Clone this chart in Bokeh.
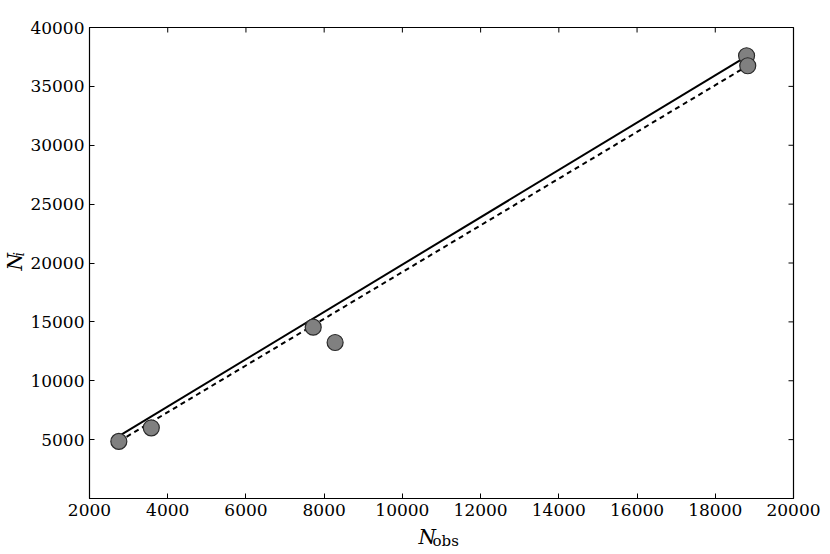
import numpy as np
from bokeh.plotting import figure
from bokeh.layouts import row, column
from bokeh.models import FixedTicker, Label, Range1d, ColumnDataSource
from bokeh.embed import file_html
from bokeh.resources import INLINE

# data
n_obs = [2750, 3580, 7720, 8280, 18800, 18830]
n_i = [4850, 6000, 14550, 13250, 37600, 36750]

fit_x = [2750, 18800]
fit_solid = [5300, 37550]
fit_x_dash = [2750, 18830]
fit_dashed = [4850, 36750]

x_ticks = [2000, 4000, 6000, 8000, 10000, 12000, 14000, 16000, 18000, 20000]
y_ticks = [5000, 10000, 15000, 20000, 25000, 30000, 35000, 40000]
x_min, x_max = 2000, 20000
y_min, y_max = 0, 40000

FONT = "DejaVu Serif"
W, H = 822, 550
LEFT_W = 27          # strip holding the y-axis label
BOTTOM_H = 26        # strip holding the x-axis label
MAIN_W = W - LEFT_W
MAIN_H = H - BOTTOM_H
FRAME_LEFT = 88      # page x of the plot frame's left edge

p = figure(width=MAIN_W, height=MAIN_H, output_backend="svg", toolbar_location=None,
           x_range=Range1d(x_min, x_max), y_range=Range1d(y_min, y_max),
           min_border_left=FRAME_LEFT - LEFT_W, min_border_right=29, min_border_top=27,
           min_border_bottom=MAIN_H - 498)
p.background_fill_color = "white"
p.border_fill_color = "white"
p.outline_line_color = "black"
p.outline_line_width = 1.2
p.xgrid.visible = False
p.ygrid.visible = False

for ax in (p.xaxis[0], p.yaxis[0]):
    ax.major_tick_in = 5
    ax.major_tick_out = 0
    ax.minor_tick_line_color = None
    ax.axis_line_color = "black"
    ax.major_label_text_font = FONT
    ax.major_label_text_font_size = "17px"
    ax.major_label_text_color = "black"
p.xaxis[0].ticker = FixedTicker(ticks=x_ticks)
p.yaxis[0].ticker = FixedTicker(ticks=y_ticks)
p.xaxis[0].major_label_standoff = 5
p.yaxis[0].major_label_standoff = 5

# inward ticks on the top and right edges (half of each dash is clipped by the frame)
p.scatter(x_ticks, [y_max] * len(x_ticks), marker="dash", size=10, angle=np.pi / 2,
          line_color="black", line_width=1)
p.scatter([x_max] * len(y_ticks), y_ticks, marker="dash", size=10,
          line_color="black", line_width=1)

p.line(fit_x, fit_solid, line_color="black", line_width=2)
p.line(fit_x_dash, fit_dashed, line_color="black", line_width=2, line_dash="5 4")

src = ColumnDataSource(dict(x=n_obs, y=n_i))
p.scatter("x", "y", source=src, size=16, fill_color="#808080", line_color="#2a2a2a",
          line_width=1.2)


def strip(width, height):
    s = figure(width=width, height=height, output_backend="svg", toolbar_location=None,
               x_axis_type=None, y_axis_type=None, min_border=0,
               x_range=Range1d(0, width), y_range=Range1d(0, height))
    s.outline_line_color = None
    s.xgrid.visible = False
    s.ygrid.visible = False
    s.background_fill_color = "white"
    s.border_fill_color = "white"
    return s


# y-axis label: N_i (rotated); anchors are the text middles
left = strip(LEFT_W, H)
left.add_layout(Label(x=14, y=H - 270, x_units="screen", y_units="screen", text="N",
                      angle=np.pi / 2, text_font=FONT, text_font_style="italic",
                      text_font_size="20px", text_color="black",
                      text_baseline="middle", text_align="left"))
left.add_layout(Label(x=18, y=H - 256, x_units="screen", y_units="screen", text="i",
                      angle=np.pi / 2, text_font=FONT, text_font_style="italic",
                      text_font_size="14px", text_color="black",
                      text_baseline="middle", text_align="left"))

# x-axis label: N_obs (the strip's frame is aligned with the plot frame)
bottom = strip(MAIN_W, BOTTOM_H)
bottom.add_layout(Label(x=417 - FRAME_LEFT, y=H - 536, x_units="screen", y_units="screen",
                        text="N", text_font=FONT, text_font_style="italic",
                        text_font_size="20px", text_color="black",
                        text_baseline="middle", text_align="left"))
bottom.add_layout(Label(x=431 - FRAME_LEFT, y=H - 540, x_units="screen", y_units="screen",
                        text="obs", text_font=FONT, text_font_size="15px",
                        text_color="black", text_baseline="middle", text_align="left"))

layout = row(left, column(p, bottom, spacing=0), spacing=0)
open("out.html", "w").write(file_html(layout, INLINE))
